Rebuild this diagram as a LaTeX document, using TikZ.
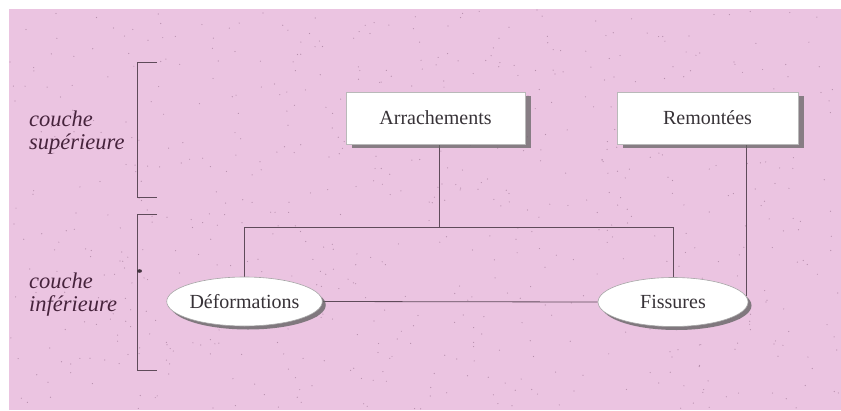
\documentclass[tikz,border=0pt]{standalone}
\usepackage{fontspec}
\setmainfont{Liberation Serif}
\usetikzlibrary{shapes.geometric,shadows}
\definecolor{bgpink}{RGB}{235,196,225}
\definecolor{speck}{RGB}{140,100,130}
\definecolor{linec}{RGB}{95,75,90}
\definecolor{txt}{RGB}{55,50,55}
\definecolor{lbl}{RGB}{70,35,60}
\pgfdeclarelayer{bg}
\pgfdeclarelayer{lines}
\pgfsetlayers{bg,lines,main}
\begin{document}
\begin{tikzpicture}[x=1pt,y=-1pt,
  boxnode/.style={draw=gray!55, line width=0.6pt, fill=white, minimum width=179pt,
    minimum height=52pt, inner sep=0pt, font=\fontsize{20}{22}\selectfont, text=txt,
    drop shadow={shadow xshift=6pt, shadow yshift=-3.5pt, fill=black!60, opacity=0.75}},
  ellnode/.style={ellipse, draw=gray!70, line width=0.6pt, fill=white, minimum width=148pt,
    minimum height=49pt, inner sep=0pt, font=\fontsize{20}{22}\selectfont, text=txt,
    drop shadow={shadow xshift=3.5pt, shadow yshift=-3.5pt, fill=black!60, opacity=0.8}},
  conn/.style={draw=linec, line width=0.8pt},
  layerlabel/.style={font=\itshape\fontsize{22.5}{23}\selectfont, text=lbl, align=left,
    anchor=west, inner sep=0pt}
]
\useasboundingbox (0,0) rectangle (841,410);
\begin{pgfonlayer}{bg}
  \fill[white] (0,0) rectangle (841,410);
  \fill[bgpink] (9,9) rectangle (841,410);
  \pgfmathsetseed{7}
  \foreach \i in {1,...,700} {
    \pgfmathsetmacro\px{10+830*rnd}
    \pgfmathsetmacro\py{10+399*rnd}
    \fill[speck, opacity=0.55] (\px,\py) circle (0.6);
  }
\end{pgfonlayer}

% boxes and ellipses
\node[boxnode] (arr) at (435.5,118) {Arrachements};
\node[boxnode, minimum width=181pt] (rem) at (707.5,118) {Remontées};
\node[ellnode] (def) at (244.5,301.5) {Déformations};
\node[ellnode, minimum width=150pt] (fis) at (673,302) {Fissures};

% layer labels
\node[layerlabel] (ls) at (29,132.5) {couche\\supérieure};
\node[layerlabel] (li) at (29,295) {couche\\inférieure};

% connector junctions
\coordinate (aj) at (439,227);
\coordinate (rj) at (746,296);

\begin{pgfonlayer}{lines}
  \draw[conn] (arr.south -| aj) -- (aj);
  \draw[conn] (def.north) -- (def.north |- aj) -- (fis.north |- aj) -- (fis.north);
  \draw[conn] (rem.south -| rj) -- (rj);
  \draw[conn] (def.east) -- (fis.west);
  % brackets
  \draw[conn] (157,62) -- (137,62) -- (137,197) -- (157,197);
  \draw[conn] (157,214) -- (137,214) -- (137,370) -- (157,370);
  \fill[linec!70!black] (139.5,271) ellipse (2.5 and 1.8);
\end{pgfonlayer}
\end{tikzpicture}
\end{document}
